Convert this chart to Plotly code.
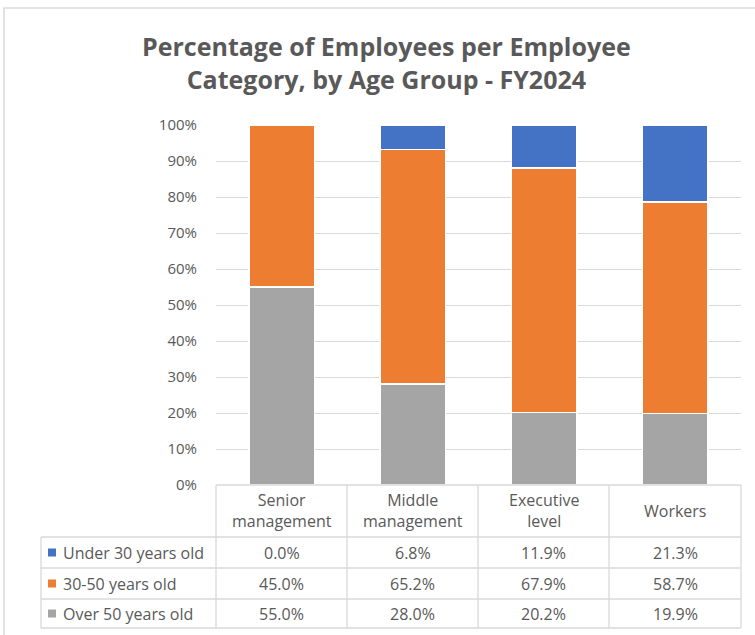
import plotly.graph_objects as go

categories = ["Senior management", "Middle management", "Executive level", "Workers"]
header_labels = ["Senior<br>management", "Middle<br>management", "Executive<br>level", "Workers"]
series_names = ["Under 30 years old", "30-50 years old", "Over 50 years old"]
under30 = [0.0, 6.8, 11.9, 21.3]
age30_50 = [45.0, 65.2, 67.9, 58.7]
over50 = [55.0, 28.0, 20.2, 19.9]
y_ticks = [0, 10, 20, 30, 40, 50, 60, 70, 80, 90, 100]

colors = {"Under 30 years old": "#4472C4", "30-50 years old": "#ED7D31", "Over 50 years old": "#A5A5A5"}
values = {"Under 30 years old": under30, "30-50 years old": age30_50, "Over 50 years old": over50}

W, H = 755, 635
FONT = "Open Sans, Noto Sans, sans-serif"
TXT = "#595959"
GRID = "#D9D9D9"
TABLE_FS = 16

def px(x):
    return x / W

def py(y):
    return 1 - y / H

fig = go.Figure()
for name in ["Over 50 years old", "30-50 years old", "Under 30 years old"]:
    fig.add_trace(go.Bar(
        x=categories, y=values[name], name=name,
        marker=dict(color=colors[name], line=dict(color="white", width=1.5)),
        showlegend=False, hoverinfo="x+y+name",
    ))

plot_left, plot_right = 216, 741
y_top, y_zero = 125, 485

fig.update_layout(
    width=W, height=H, barmode="stack", bargap=0.5,
    margin=dict(l=0, r=0, t=0, b=0, autoexpand=False),
    paper_bgcolor="white", plot_bgcolor="white",
    font=dict(family=FONT, color=TXT, size=15),
    xaxis=dict(domain=[px(plot_left), px(plot_right)], showticklabels=False, automargin=False,
               showgrid=False, zeroline=False, showline=False, fixedrange=True),
    yaxis=dict(domain=[py(y_zero), py(y_top)], range=[0, 100], tickvals=y_ticks, automargin=False,
               ticktext=[f"{v}%" for v in y_ticks], showgrid=True, gridcolor=GRID,
               gridwidth=1, zeroline=False, showline=False, ticks="",
               ticklabelstandoff=18, tickfont=dict(size=15, color=TXT, family=FONT)),
)

shapes = []
# outer chart border
shapes.append(dict(type="rect", xref="paper", yref="paper", x0=px(4), x1=px(760), y0=py(640), y1=py(8),
                   line=dict(color="#D9D9D9", width=1.5), fillcolor="rgba(0,0,0,0)", layer="below"))

# table geometry
col_edges = [216, 347, 478, 609, 741]
table_left = 41
header_top, header_bottom = 485, 537
row_edges = [537, 568, 599, 628]
line_style = dict(color="#D9D9D9", width=1.3)

def hline(x0, x1, y):
    shapes.append(dict(type="line", xref="paper", yref="paper", x0=px(x0), x1=px(x1), y0=py(y), y1=py(y), line=line_style))

def vline(x, y0, y1):
    shapes.append(dict(type="line", xref="paper", yref="paper", x0=px(x), x1=px(x), y0=py(y0), y1=py(y1), line=line_style))

hline(col_edges[0], col_edges[-1], header_top)
for y in row_edges:
    hline(table_left, col_edges[-1], y)
for x in col_edges:
    vline(x, header_top, row_edges[-1])
vline(table_left, row_edges[0], row_edges[-1])

annotations = []
# title
annotations.append(dict(text="<b>Percentage of Employees per Employee<br>Category, by Age Group - FY2024</b>",
                        x=px(386), y=py(63), xref="paper", yref="paper", showarrow=False,
                        xanchor="center", yanchor="middle",
                        font=dict(family=FONT, size=25, color=TXT)))

# header labels
for i, lab in enumerate(header_labels):
    cx = (col_edges[i] + col_edges[i + 1]) / 2
    annotations.append(dict(text=lab, x=px(cx), y=py((header_top + header_bottom) / 2), xref="paper", yref="paper",
                            showarrow=False, xanchor="center", yanchor="middle",
                            font=dict(family=FONT, size=TABLE_FS, color=TXT)))

# rows
for r, name in enumerate(series_names):
    cy = (row_edges[r] + row_edges[r + 1]) / 2
    shapes.append(dict(type="rect", xref="paper", yref="paper", x0=px(48), x1=px(56), y0=py(cy + 4), y1=py(cy - 4),
                       fillcolor=colors[name], line=dict(width=0)))
    annotations.append(dict(text=name, x=px(61), y=py(cy), xref="paper", yref="paper", showarrow=False,
                            xanchor="left", yanchor="middle", font=dict(family=FONT, size=TABLE_FS, color=TXT)))
    for i, v in enumerate(values[name]):
        cx = (col_edges[i] + col_edges[i + 1]) / 2
        annotations.append(dict(text=f"{v:.1f}%", x=px(cx), y=py(cy), xref="paper", yref="paper",
                                showarrow=False, xanchor="center", yanchor="middle",
                                font=dict(family=FONT, size=TABLE_FS, color=TXT)))

fig.update_layout(shapes=shapes, annotations=annotations)
fig.write_html("out.html")
